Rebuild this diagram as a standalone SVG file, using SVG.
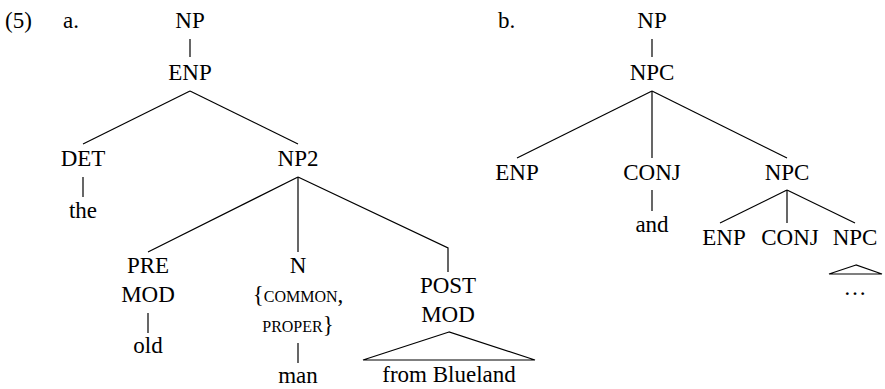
<svg xmlns="http://www.w3.org/2000/svg" width="885" height="389" viewBox="0 0 885 389">
<style>
text{font-size:23px;fill:#000;text-anchor:middle}
.l{text-anchor:start}
.sc{font-variant:small-caps}
#edges line,#edges polyline,#edges polygon{stroke:#000;stroke-width:1.2;fill:none}
</style>
<rect width="885" height="389" fill="#fff"/>
<g font-family="'Liberation Serif', 'Times New Roman', Tinos, 'DejaVu Serif', serif">
<text class="l" x="5" y="28">(5)</text>
<text class="l" x="63" y="28">a.</text>
<text class="l" x="498" y="28">b.</text>
<g id="edges">
<line x1="190" y1="39" x2="190" y2="57"/>
<line x1="190" y1="91" x2="83" y2="144"/>
<line x1="190" y1="91" x2="298" y2="144"/>
<line x1="83" y1="177" x2="83" y2="197"/>
<line x1="298" y1="177" x2="148" y2="252"/>
<line x1="298" y1="177" x2="298" y2="252"/>
<polyline points="298,177 448,248 448,272"/>
<line x1="148" y1="313" x2="148" y2="333"/>
<line x1="298" y1="343" x2="298" y2="363"/>
<polygon points="449,332 363,360 535,360"/>
<line x1="652" y1="39" x2="652" y2="57"/>
<line x1="652" y1="91" x2="517" y2="158"/>
<line x1="652" y1="91" x2="652" y2="158"/>
<line x1="652" y1="91" x2="787" y2="158"/>
<line x1="652" y1="190" x2="652" y2="211"/>
<line x1="787" y1="190" x2="720" y2="223"/>
<line x1="787" y1="190" x2="787" y2="223"/>
<line x1="787" y1="190" x2="855" y2="223"/>
<polygon points="856,265 829,274 882,274"/>
</g>
<g id="a-np"><text x="190" y="28">NP</text></g>
<g id="a-enp"><text x="190" y="80">ENP</text></g>
<g id="a-det"><text x="83" y="166">DET</text></g>
<g id="a-the"><text x="83" y="218">the</text></g>
<g id="a-np2"><text x="298" y="166">NP2</text></g>
<g id="a-premod"><text x="148" y="273">PRE</text><text x="148" y="302">MOD</text></g>
<g id="a-old"><text x="148" y="353">old</text></g>
<g id="a-n"><text x="298" y="273">N</text><text x="298" y="302">{<tspan class="sc">common,</tspan></text><text x="298" y="332"><tspan class="sc">proper</tspan>}</text></g>
<g id="a-man"><text x="298" y="383">man</text></g>
<g id="a-postmod"><text x="448" y="293">POST</text><text x="448" y="322">MOD</text></g>
<g id="a-from"><text x="449" y="382">from Blueland</text></g>
<g id="b-np"><text x="652" y="28">NP</text></g>
<g id="b-npc"><text x="652" y="80">NPC</text></g>
<g id="b-enp"><text x="517" y="180">ENP</text></g>
<g id="b-conj"><text x="652" y="180">CONJ</text></g>
<g id="b-and"><text x="652" y="232">and</text></g>
<g id="b-npc2"><text x="787" y="180">NPC</text></g>
<g id="b-enp2"><text x="724" y="245">ENP</text></g>
<g id="b-conj2"><text x="790" y="245">CONJ</text></g>
<g id="b-npc3"><text x="855" y="245">NPC</text></g>
<g id="b-dots"><text x="855" y="295">…</text></g>
</g>
</svg>
